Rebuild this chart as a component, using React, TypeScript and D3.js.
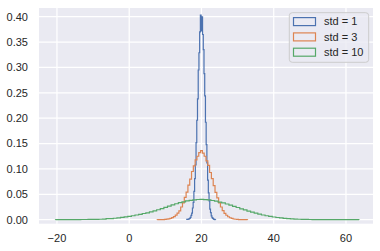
import React from "react";
import * as d3 from "d3";

// Histogram data (density)
const seriesLabels = ["std = 1", "std = 3", "std = 10"];

const blueStart = 15.9;
const blueWidth = 0.2;
const blueDensity = [
  0.0005, 0.0005, 0.001, 0.0015, 0.0025, 0.0045, 0.0085, 0.013, 0.023, 0.034,
  0.056, 0.081, 0.108, 0.152, 0.196, 0.238, 0.295, 0.329, 0.37, 0.403,
  0.372, 0.4, 0.365, 0.335, 0.288, 0.244, 0.192, 0.148, 0.112, 0.078,
  0.053, 0.037, 0.021, 0.014, 0.0075, 0.004, 0.0025, 0.0012, 0.0006, 0.0003,
];

const orangeStart = 7.75;
const orangeWidth = 0.5;
const orangeDensity = [
  0.0002, 0.0002, 0.0003, 0.0003, 0.0006, 0.001, 0.0016, 0.0025, 0.004, 0.006,
  0.009, 0.013, 0.0175, 0.025, 0.033, 0.044, 0.0545, 0.068, 0.08, 0.095,
  0.106, 0.118, 0.125, 0.132, 0.136, 0.131, 0.125, 0.116, 0.107, 0.093,
  0.081, 0.067, 0.054, 0.043, 0.033, 0.025, 0.018, 0.0125, 0.0088, 0.0058,
  0.0038, 0.0024, 0.0014, 0.0009, 0.0005, 0.0003, 0.0002, 0.0001, 0.0001, 0.0001,
];

const greenStart = -20.4;
const greenWidth = 1.0;
const greenDensity = [
  0.0001, 0.0, 0.0001, 0.0001, 0.0002, 0.0002, 0.0003, 0.0004, 0.0004, 0.0006,
  0.0005, 0.0008, 0.0009, 0.0011, 0.002, 0.0022, 0.0028, 0.0036, 0.0045, 0.0055,
  0.0066, 0.0078, 0.0092, 0.0106, 0.0122, 0.0136, 0.0154, 0.0173, 0.0196, 0.022,
  0.0244, 0.0268, 0.0291, 0.0314, 0.0335, 0.0352, 0.037, 0.0382, 0.0392, 0.0398,
  0.04, 0.0396, 0.0389, 0.0378, 0.0365, 0.0348, 0.033, 0.0309, 0.0287, 0.0263,
  0.024, 0.0215, 0.0192, 0.017, 0.0148, 0.0128, 0.0109, 0.0092, 0.0078, 0.0064,
  0.0053, 0.0043, 0.0034, 0.0027, 0.0021, 0.0016, 0.0012, 0.0009, 0.0007, 0.0005,
  0.0004, 0.0003, 0.0002, 0.0002, 0.0001, 0.0001, 0.0001, 0.0, 0.0001, 0.0,
  0.0, 0.0, 0.0001, 0.0001,
];

const xTicks = [-20, 0, 20, 40, 60];
const yTicks = [0, 0.05, 0.1, 0.15, 0.2, 0.25, 0.3, 0.35, 0.4];

const colors = ["#4C72B0", "#DD8452", "#55A868"];

const W = 380;
const H = 251;
const plot = { left: 39, right: 373, top: 8, bottom: 223.7 };

const x = d3.scaleLinear().domain([-24.97, 67.48]).range([plot.left, plot.right]);
const y = d3.scaleLinear().domain([-0.0079, 0.4172]).range([plot.bottom, plot.top]);

function stepPoints(start: number, width: number, vals: number[]): [number, number][] {
  const pts: [number, number][] = [[start, 0]];
  vals.forEach((v, i) => {
    pts.push([start + i * width, v]);
    pts.push([start + (i + 1) * width, v]);
  });
  pts.push([start + vals.length * width, 0]);
  return pts;
}

const line = d3
  .line<[number, number]>()
  .x((d) => x(d[0]))
  .y((d) => y(d[1]));

const series = [
  { start: blueStart, width: blueWidth, vals: blueDensity },
  { start: orangeStart, width: orangeWidth, vals: orangeDensity },
  { start: greenStart, width: greenWidth, vals: greenDensity },
];

const font = "'Liberation Sans', Arial, sans-serif";
const textColor = "#262626";

export default function App() {
  const fmt = d3.format(".2f");
  return (
    <svg
      width={W}
      height={H}
      style={{ position: "absolute", left: 0, top: 0, background: "#fff" }}
    >
      <rect
        x={plot.left}
        y={plot.top}
        width={plot.right - plot.left}
        height={plot.bottom - plot.top}
        fill="#EAEAF2"
      />
      <g stroke="#fff" strokeWidth={1.25}>
        {xTicks.map((t) => (
          <line key={"gx" + t} x1={x(t)} x2={x(t)} y1={plot.top} y2={plot.bottom} />
        ))}
        {yTicks.map((t) => (
          <line key={"gy" + t} x1={plot.left} x2={plot.right} y1={y(t)} y2={y(t)} />
        ))}
      </g>
      <g fill="none" strokeWidth={1.2} strokeLinejoin="miter">
        {series.map((s, i) => (
          <path key={i} d={line(stepPoints(s.start, s.width, s.vals)) || ""} stroke={colors[i]} />
        ))}
      </g>
      <g fontFamily={font} fontSize={11} fill={textColor}>
        {xTicks.map((t) => (
          <text key={"tx" + t} x={x(t)} y={242} textAnchor="middle">
            {t < 0 ? "\u2212" + Math.abs(t) : String(t)}
          </text>
        ))}
        {yTicks.map((t) => (
          <text key={"ty" + t} x={28} y={y(t)} dy="0.35em" textAnchor="end">
            {fmt(t)}
          </text>
        ))}
      </g>
      <g>
        <rect
          x={289.3}
          y={12.7}
          width={79.4}
          height={49.6}
          rx={3}
          fill="#EAEAF2"
          fillOpacity={0.8}
          stroke="#cccccc"
          strokeWidth={1}
        />
        {seriesLabels.map((lab, i) => (
          <g key={lab} transform={`translate(0, ${21.6 + i * 15.3})`}>
            <rect x={293.5} y={-4} width={22} height={8} fill="none" stroke={colors[i]} strokeWidth={1.2} />
            <text x={324} y={0} dy="0.35em" fontFamily={font} fontSize={11} fill={textColor}>
              {lab}
            </text>
          </g>
        ))}
      </g>
    </svg>
  );
}
